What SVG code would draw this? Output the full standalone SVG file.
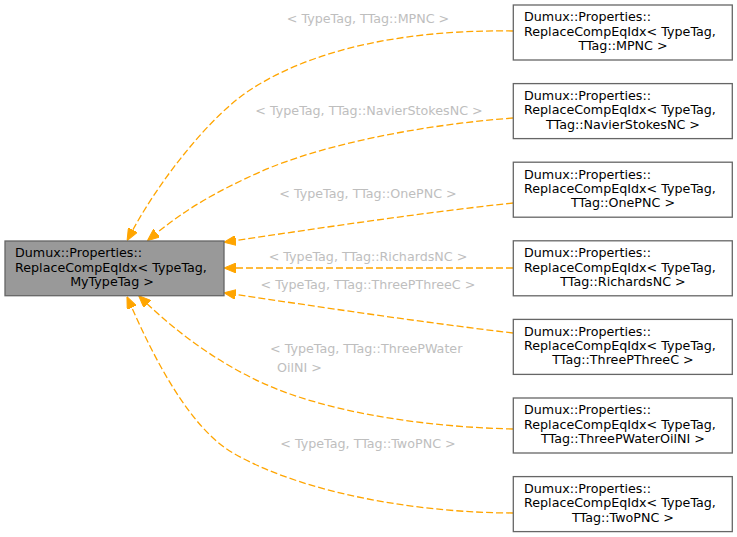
<svg xmlns="http://www.w3.org/2000/svg" width="737" height="537" viewBox="0 0 737 537">
<style>
text{font-family:"DejaVu Sans","Liberation Sans",sans-serif;font-size:12.7px;}
.node rect{fill:#ffffff;stroke:#666666;stroke-width:1.3;}
#main rect{fill:#999999;stroke:#666666;}
.node text{fill:#000000;}
.edge path{fill:none;stroke:#ffa500;stroke-width:1.3;stroke-dasharray:7,3;}
.lbl{fill:#bebebe;text-anchor:middle;}
.c{text-anchor:middle;}
</style>
<defs>
<marker id="ah" viewBox="0 0 12 10" refX="0" refY="5" markerWidth="12" markerHeight="10" markerUnits="userSpaceOnUse" orient="auto">
<path d="M0,0 L12,5 L0,10 Z" fill="#ffa500" stroke="#ffa500" stroke-width="1"/>
</marker>
</defs>
<g id="edges" class="edge">
<path marker-end="url(#ah)" d="M513,31 C440,30 330,38 250,90 C210,116 160,180 132.8,230"/>
<path marker-end="url(#ah)" d="M513,118 C420,125 320,145 260,172 C215,192 185,210 156.7,233.1"/>
<path marker-end="url(#ah)" d="M513,203 C420,213 320,228 235.8,240.5"/>
<path marker-end="url(#ah)" d="M513,268 L236,268"/>
<path marker-end="url(#ah)" d="M513,333 C420,322 320,307 235.8,294.5"/>
<path marker-end="url(#ah)" d="M513,429 C430,427 350,415 290,394 C230,373 180,335 147.3,304"/>
<path marker-end="url(#ah)" d="M513,513 C430,513 310,497 233,453 C190,428 155,360 131.8,307.6"/>
<text class="lbl" x="368" y="23">&lt; TypeTag, TTag::MPNC &gt;</text>
<text class="lbl" x="369" y="115">&lt; TypeTag, TTag::NavierStokesNC &gt;</text>
<text class="lbl" x="368" y="198">&lt; TypeTag, TTag::OnePNC &gt;</text>
<text class="lbl" x="368" y="261">&lt; TypeTag, TTag::RichardsNC &gt;</text>
<text class="lbl" x="368" y="289">&lt; TypeTag, TTag::ThreePThreeC &gt;</text>
<text class="lbl" x="270" y="353" style="text-anchor:start">&lt; TypeTag, TTag::ThreePWater</text>
<text class="lbl" x="277" y="372" style="text-anchor:start">OilNI &gt;</text>
<text class="lbl" x="368" y="448">&lt; TypeTag, TTag::TwoPNC &gt;</text>
</g>
<g id="main" class="node">
<rect x="5" y="241" width="219" height="54.7"/>
<text x="15" y="257.3">Dumux::Properties::</text>
<text x="15" y="271.7">ReplaceCompEqIdx&lt; TypeTag,</text>
<text class="c" x="112" y="286">MyTypeTag &gt;</text>
</g>
<g id="n_mpnc" class="node">
<rect x="513.3" y="5" width="219" height="55"/>
<text x="524" y="21.3">Dumux::Properties::</text>
<text x="524" y="35.7">ReplaceCompEqIdx&lt; TypeTag,</text>
<text class="c" x="623" y="50">TTag::MPNC &gt;</text>
</g>
<g id="n_navier" class="node">
<rect x="513.3" y="83.6" width="219" height="55"/>
<text x="524" y="99.9">Dumux::Properties::</text>
<text x="524" y="114.3">ReplaceCompEqIdx&lt; TypeTag,</text>
<text class="c" x="623" y="128.6">TTag::NavierStokesNC &gt;</text>
</g>
<g id="n_onepnc" class="node">
<rect x="513.3" y="162.2" width="219" height="55"/>
<text x="524" y="178.5">Dumux::Properties::</text>
<text x="524" y="192.9">ReplaceCompEqIdx&lt; TypeTag,</text>
<text class="c" x="623" y="207.2">TTag::OnePNC &gt;</text>
</g>
<g id="n_richards" class="node">
<rect x="513.3" y="240.8" width="219" height="55"/>
<text x="524" y="257.1">Dumux::Properties::</text>
<text x="524" y="271.5">ReplaceCompEqIdx&lt; TypeTag,</text>
<text class="c" x="623" y="285.8">TTag::RichardsNC &gt;</text>
</g>
<g id="n_3p3c" class="node">
<rect x="513.3" y="319.4" width="219" height="55"/>
<text x="524" y="335.7">Dumux::Properties::</text>
<text x="524" y="350.1">ReplaceCompEqIdx&lt; TypeTag,</text>
<text class="c" x="623" y="364.4">TTag::ThreePThreeC &gt;</text>
</g>
<g id="n_3pwo" class="node">
<rect x="513.3" y="398" width="219" height="55"/>
<text x="524" y="414.3">Dumux::Properties::</text>
<text x="524" y="428.7">ReplaceCompEqIdx&lt; TypeTag,</text>
<text class="c" x="623" y="443">TTag::ThreePWaterOilNI &gt;</text>
</g>
<g id="n_2pnc" class="node">
<rect x="513.3" y="476.6" width="219" height="55"/>
<text x="524" y="492.9">Dumux::Properties::</text>
<text x="524" y="507.3">ReplaceCompEqIdx&lt; TypeTag,</text>
<text class="c" x="623" y="521.6">TTag::TwoPNC &gt;</text>
</g>
</svg>
